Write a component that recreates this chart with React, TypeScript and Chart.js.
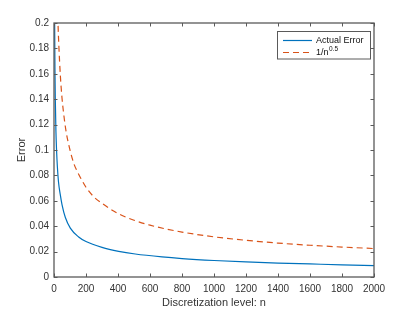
import { useEffect, useRef } from "react";
import { Chart, registerables } from "chart.js";

Chart.register(...registerables);

// Discretization levels and values
const nActual = [1, 2, 3, 4, 6, 8, 12, 16, 21, 28, 39, 50, 71, 102, 154, 200, 300, 404, 508, 675, 800, 1000, 1200, 1400, 1600, 1800, 2000];
const actualError = [0.4, 0.28, 0.23, 0.2, 0.163, 0.141, 0.115, 0.1, 0.087, 0.075, 0.065, 0.057, 0.0468, 0.0385, 0.0315, 0.0279, 0.0233, 0.0202, 0.0181, 0.0158, 0.0145, 0.013, 0.0119, 0.011, 0.0103, 0.0096, 0.009];

const nRef = [10, 15, 20, 25, 30, 40, 50, 60, 75, 100, 125, 150, 200, 250, 300, 400, 500, 600, 800, 1000, 1200, 1400, 1600, 1800, 2000];
const refError = [0.316, 0.258, 0.224, 0.2, 0.183, 0.158, 0.141, 0.129, 0.115, 0.1, 0.089, 0.082, 0.0707, 0.063, 0.058, 0.05, 0.0447, 0.0408, 0.0354, 0.0316, 0.0289, 0.0267, 0.025, 0.0236, 0.0224];

const seriesLabels = ["Actual Error", "1/n^0.5"];
const xTickLabels = ["0", "200", "400", "600", "800", "1000", "1200", "1400", "1600", "1800", "2000"];
const yTickLabels = ["0", "0.02", "0.04", "0.06", "0.08", "0.1", "0.12", "0.14", "0.16", "0.18", "0.2"];
const xTitle = "Discretization level: n";
const yTitle = "Error";

const FONT = "'Liberation Sans', Arial, Helvetica, sans-serif";
const BLUE = "#0072BD";
const ORANGE = "#D95319";
const AXIS = "#333333";

const boxTicksPlugin = {
  id: "boxTicks",
  afterDatasetsDraw(chart: any) {
    const { ctx, chartArea } = chart;
    const { left, right, top, bottom } = chartArea;
    const xs = chart.scales.x;
    const ys = chart.scales.y;
    const tl = 3.5;
    ctx.save();
    ctx.strokeStyle = "#5a5a5a";
    ctx.lineWidth = 1;
    ctx.beginPath();
    xs.ticks.forEach((t: any) => {
      const px = Math.round(xs.getPixelForValue(t.value)) + 0.5;
      ctx.moveTo(px, bottom);
      ctx.lineTo(px, bottom - tl);
      ctx.moveTo(px, top);
      ctx.lineTo(px, top + tl);
    });
    ys.ticks.forEach((t: any) => {
      const py = Math.round(ys.getPixelForValue(t.value)) + 0.5;
      ctx.moveTo(left, py);
      ctx.lineTo(left + tl, py);
      ctx.moveTo(right, py);
      ctx.lineTo(right - tl, py);
    });
    ctx.stroke();
    ctx.lineWidth = 1.3;
    ctx.strokeRect(left, top, right - left, bottom - top);
    ctx.restore();
  },
};

const legendPlugin = {
  id: "matlabLegend",
  afterDraw(chart: any) {
    const { ctx } = chart;
    const bx = 277, by = 31.5, bw = 93, bh = 27.5;
    ctx.save();
    ctx.fillStyle = "#fff";
    ctx.fillRect(bx, by, bw, bh);
    ctx.strokeStyle = "#5a5a5a";
    ctx.lineWidth = 1;
    ctx.strokeRect(bx + 0.5, by, bw, bh);
    const rows = [40.5, 52.5];
    chart.data.datasets.forEach((ds: any, i: number) => {
      const y = rows[i];
      ctx.strokeStyle = ds.borderColor;
      ctx.lineWidth = ds.borderWidth;
      ctx.setLineDash(ds.borderDash || []);
      ctx.beginPath();
      ctx.moveTo(283, y);
      ctx.lineTo(312, y);
      ctx.stroke();
      ctx.setLineDash([]);
      ctx.fillStyle = "#111";
      ctx.textBaseline = "middle";
      ctx.textAlign = "left";
      const parts = String(ds.label).split("^");
      ctx.font = `9px ${FONT}`;
      ctx.fillText(parts[0], 316, y + 0.5);
      if (parts[1]) {
        const w = ctx.measureText(parts[0]).width;
        ctx.font = `6.5px ${FONT}`;
        ctx.fillText(parts[1], 316 + w + 0.5, y - 3);
      }
    });
    ctx.restore();
  },
};

export default function App() {
  const ref = useRef<HTMLCanvasElement | null>(null);
  useEffect(() => {
    if (!ref.current) return;
    const chart = new Chart(ref.current, {
      type: "line",
      data: {
        datasets: [
          {
            label: seriesLabels[0],
            data: nActual.map((n, i) => ({ x: n, y: actualError[i] })),
            borderColor: BLUE,
            backgroundColor: BLUE,
            borderWidth: 1.2,
            pointRadius: 0,
            cubicInterpolationMode: "monotone",
            fill: false,
          },
          {
            label: seriesLabels[1],
            data: nRef.map((n, i) => ({ x: n, y: refError[i] })),
            borderColor: ORANGE,
            backgroundColor: ORANGE,
            borderWidth: 1.2,
            borderDash: [6, 4],
            pointRadius: 0,
            cubicInterpolationMode: "monotone",
            fill: false,
          },
        ],
      },
      options: {
        animation: false,
        responsive: false,
        maintainAspectRatio: false,
        layout: { padding: { top: 23, right: 41, left: 0, bottom: 0 } },
        plugins: { legend: { display: false }, tooltip: { enabled: false } },
        scales: {
          x: {
            type: "linear",
            min: 0,
            max: 2000,
            afterFit: (s: any) => { s.height = 35; },
            grid: { display: false, drawTicks: false },
            border: { display: false },
            ticks: {
              stepSize: 200,
              padding: 6,
              color: AXIS,
              font: { family: FONT, size: 10 },
              maxRotation: 0,
              autoSkip: false,
              callback: (_v: any, i: number) => xTickLabels[i],
            },
            title: {
              display: true,
              text: xTitle,
              color: AXIS,
              font: { family: FONT, size: 11 },
              padding: { top: 0, bottom: 2 },
            },
          },
          y: {
            type: "linear",
            min: 0,
            max: 0.2,
            afterFit: (s: any) => { s.width = 54; },
            grid: { display: false, drawTicks: false },
            border: { display: false },
            ticks: {
              stepSize: 0.02,
              padding: 5,
              color: AXIS,
              font: { family: FONT, size: 10 },
              autoSkip: false,
              callback: (_v: any, i: number) => yTickLabels[i],
            },
            title: {
              display: true,
              text: yTitle,
              color: AXIS,
              font: { family: FONT, size: 11 },
              padding: { top: 15, bottom: 0 },
            },
          },
        },
      },
      plugins: [boxTicksPlugin, legendPlugin],
    } as any);
    return () => chart.destroy();
  }, []);
  return (
    <div style={{ position: "absolute", left: 0, top: 0, width: 415, height: 312, background: "#fff" }}>
      <canvas ref={ref} width={415} height={312} style={{ display: "block" }} />
    </div>
  );
}
